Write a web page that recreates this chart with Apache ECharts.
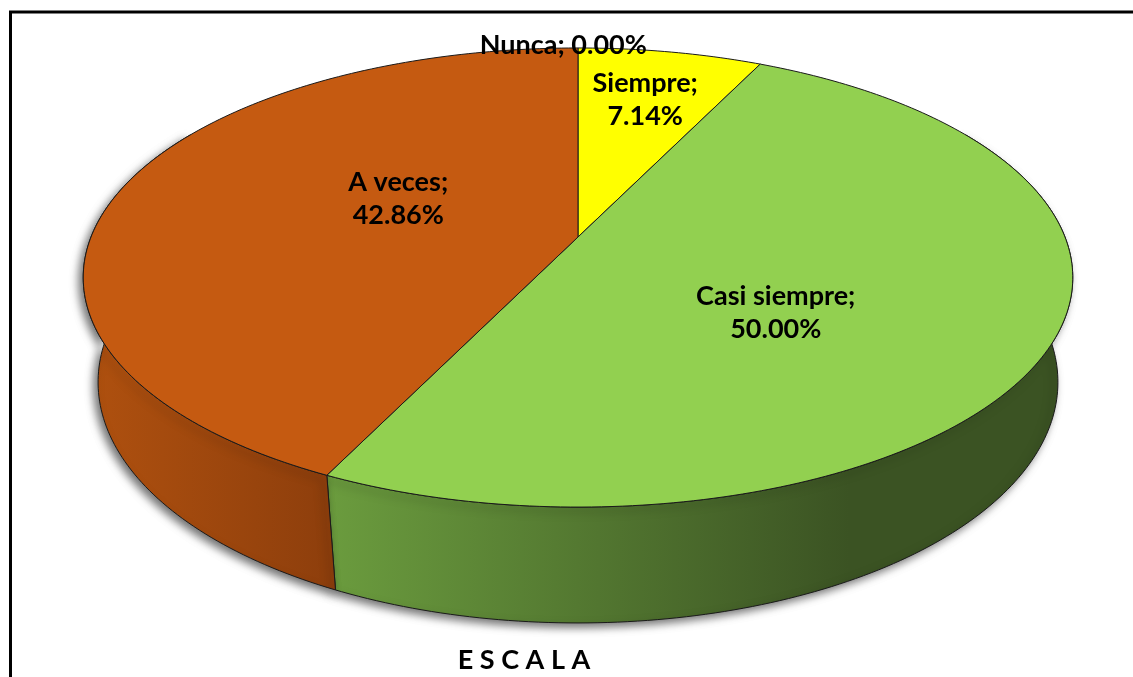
<!DOCTYPE html>
<html>
<head>
<meta charset="utf-8">
<script src="https://cdn.jsdelivr.net/npm/echarts@6/dist/echarts.min.js"></script>
<style>
  html, body { margin: 0; padding: 0; background: #fff; }
  #chart { width: 1133px; height: 677px; }
</style>
</head>
<body>
<div id="chart"></div>
<script>
// data (n = 14 answers)
var categories = ['Nunca', 'Siempre', 'Casi siempre', 'A veces'];
var percents = [0.00, 7.14, 50.00, 42.86];

var TOP_COLORS = ['#4472C4', '#FFFF00', '#92D050', '#C55A11'];
var SIDE_STOPS = [
  [[0, '#2F5597'], [1, '#203864']],
  [[0, '#D6D600'], [1, '#A0A000']],
  [[0, '#6B9C3E'], [0.7, '#3B5323'], [1, '#3B5323']],
  [[0, '#B0510F'], [1, '#8D3E0C']]
]
// label anchor on the disk: [angle clockwise from back, radius fraction, one line]
var LABEL_ANCHOR = [[-2, 1.02, true], [12.6, 0.71, false], [130, 0.50, false], [295, 0.42, false]];

var LABEL_FONT = 'bold 27px Lato';

// 3d disk seen from above, light perspective
var PIE = { cx: 578, cy: 237, sx: 487, sy: 222.4, k: 0.1765, m: 0.03, depth: 107 };
var SIDE_FROM = 60;
var SIDE_TO = 300;

var total = percents.reduce(function (s, v) { return s + v }, 0);
var startAngles = [];
var endAngles = [];
var acc = 0;
percents.forEach(function (v) {
  startAngles.push(acc / total * 360);
  acc += v;
  endAngles.push(acc / total * 360);
});

function project(deg, r, bottom) {
  var a = deg * Math.PI / 180;
  var u = r * Math.sin(a);
  var v = r * Math.cos(a);
  var d = 1 + PIE.k * v + (bottom ? PIE.m : 0);
  return [PIE.cx + PIE.sx * u / d, PIE.cy - (PIE.sy * v - (bottom ? PIE.depth : 0)) / d];
}

function arc(a0, a1, bottom) {
  var pts = [];
  for (var a = a0; a < a1; a += 1) {
    pts.push(project(a, 1, bottom));
  }
  pts.push(project(a1, 1, bottom));
  return pts;
}

function renderSide(params, api) {
  var i = params.dataIndex;
  var a0 = Math.max(startAngles[i], SIDE_FROM);
  var a1 = Math.min(endAngles[i], SIDE_TO);
  if (!(api.value(0) > 0) || a1 <= a0) {
    return { type: 'group', children: [] };
  }
  var pts = arc(a0, a1, false).concat(arc(a0, a1, true).reverse());
  return {
    type: 'polygon',
    shape: { points: pts },
    style: {
      fill: new echarts.graphic.LinearGradient(0, 0, 1, 0, SIDE_STOPS[i].map(function (s) {
        return { offset: s[0], color: s[1] };
      })),
      stroke: '#1a1a1a',
      lineWidth: 1,
      shadowBlur: 9,
      shadowColor: 'rgba(0,0,0,0.55)',
      shadowOffsetX: -4,
      shadowOffsetY: 4
    }
  };
}

function renderTop(params, api) {
  var i = params.dataIndex;
  var children = [];
  if (api.value(0) > 0) {
    var pts = [project(0, 0, false)].concat(arc(startAngles[i], endAngles[i], false));
    children.push({
      type: 'polygon',
      shape: { points: pts },
      style: { fill: TOP_COLORS[i], stroke: '#1a1a1a', lineWidth: 1 }
    });
  }
  var anchor = LABEL_ANCHOR[i];
  var p = project(anchor[0], anchor[1], false);
  var txt = categories[i] + ';' + (anchor[2] ? ' ' : '\n') + api.value(0).toFixed(2) + '%';
  children.push({
    type: 'text',
    z2: 20,
    style: {
      text: txt,
      x: p[0],
      y: p[1],
      align: 'center',
      verticalAlign: 'middle',
      font: LABEL_FONT,
      lineHeight: 33,
      fill: '#000'
    }
  });
  return { type: 'group', children: children };
}

var seriesData = categories.map(function (name, i) {
  return { name: name, value: [percents[i]] };
});

var chart = echarts.init(document.getElementById('chart'));
chart.setOption({
  animation: false,
  backgroundColor: '#fff',
  title: {
    text: 'E S C A L A',
    left: 519,
    top: 642,
    textAlign: 'center',
    textStyle: { fontFamily: 'Lato', fontSize: 27, fontWeight: 'bold', color: '#000' }
  },
  graphic: [
    {
      type: 'rect',
      silent: true,
      shape: { x: 10.5, y: 12, width: 1400, height: 900 },
      style: { fill: 'none', stroke: '#000', lineWidth: 3 }
    }
  ],
  series: [
    {
      type: 'custom',
      coordinateSystem: 'none',
      silent: true,
      z: 2,
      data: seriesData,
      renderItem: renderSide
    },
    {
      type: 'custom',
      coordinateSystem: 'none',
      silent: true,
      z: 3,
      data: seriesData,
      renderItem: renderTop
    }
  ]
});
</script>
</body>
</html>
